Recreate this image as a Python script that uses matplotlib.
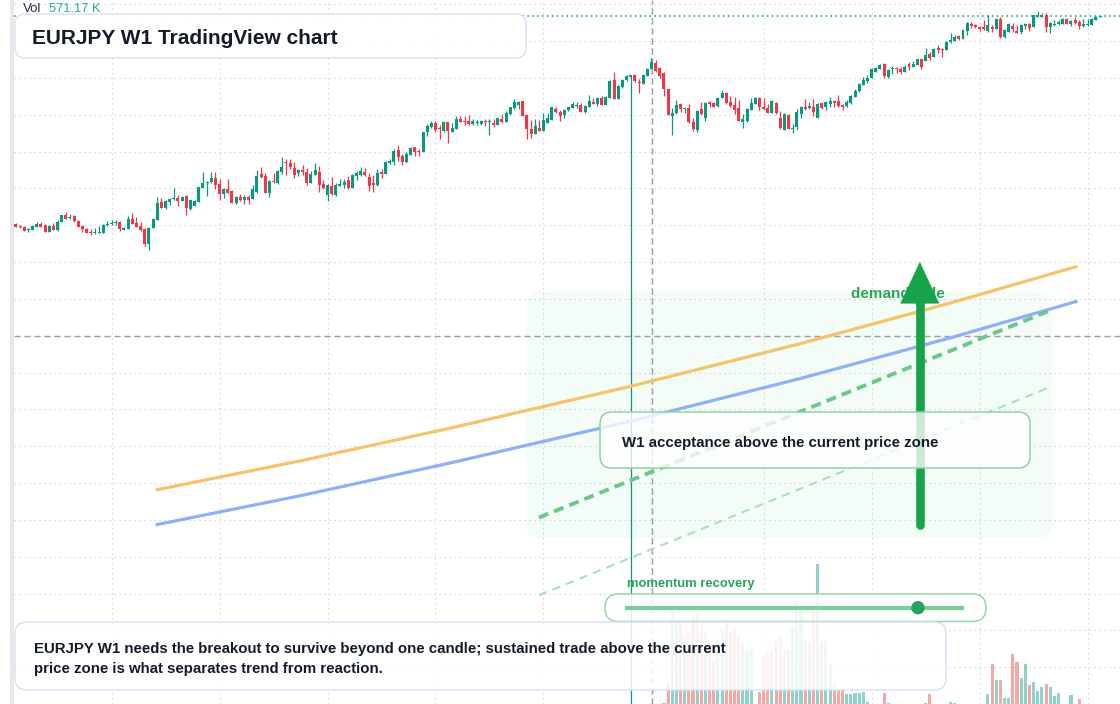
import numpy as np
import matplotlib
matplotlib.use("Agg")
import matplotlib.pyplot as plt
from matplotlib.patches import FancyBboxPatch, Circle, Rectangle
from matplotlib.lines import Line2D
from matplotlib.transforms import Affine2D
from matplotlib.colors import to_rgba

plt.rcParams['font.family'] = ['Liberation Sans', 'DejaVu Sans']

# ---------------- data (weekly EURJPY candles) ----------------
opens = [
    157.5, 157.3, 157.2, 156.9, 156.9, 157.2, 157.5, 157.4, 156.7, 157.3,
    156.9, 157.7, 158.4, 158.1, 158.3, 157.8, 157.3, 157.0, 156.7, 156.6,
    156.6, 156.6, 157.4, 157.5, 157.6, 157.7, 156.9, 157.0, 158.0, 157.6,
    157.3, 157.0, 155.5, 157.1, 157.9, 159.7, 159.1, 159.7, 160.0, 160.1,
    159.8, 160.3, 159.0, 159.3, 159.7, 161.1, 161.6, 161.7, 162.1, 161.5,
    160.5, 161.0, 160.8, 159.6, 160.2, 159.9, 160.2, 160.0, 160.7, 162.5,
    162.3, 160.6, 161.8, 161.6, 162.7, 163.7, 163.6, 163.1, 162.6, 162.9,
    162.7, 161.6, 162.4, 162.7, 161.5, 160.4, 161.3, 160.4, 161.3, 161.4,
    161.9, 161.1, 162.3, 162.4, 162.7, 162.2, 161.6, 161.4, 162.7, 162.5,
    163.6, 163.7, 164.9, 164.3, 163.7, 164.4, 165.2, 164.8, 164.7, 166.7,
    167.2, 167.6, 167.1, 166.8, 167.7, 166.7, 167.0, 168.0, 167.8, 167.8,
    167.5, 167.6, 167.5, 167.8, 167.7, 167.6, 167.4, 168.0, 167.7, 168.5,
    169.1, 169.5, 169.9, 168.4, 167.0, 166.5, 167.1, 166.8, 167.6, 167.9,
    169.0, 168.7, 168.4, 168.9, 169.1, 169.4, 169.5, 168.7, 169.3, 169.8,
    169.6, 170.2, 169.5, 170.2, 172.0, 170.1, 171.3, 172.0, 172.3, 172.5,
    171.8, 171.6, 172.4, 173.1, 173.7, 173.2, 172.7, 171.1, 168.3, 168.6,
    169.6, 169.0, 169.1, 167.7, 166.9, 169.0, 168.1, 169.8, 169.7, 169.4,
    170.2, 170.7, 169.8, 169.5, 169.1, 167.7, 167.8, 168.9, 169.6, 170.2,
    169.2, 169.1, 168.6, 169.7, 168.1, 166.9, 168.4, 167.0, 167.2, 168.5,
    169.2, 169.1, 169.2, 168.1, 169.7, 169.2, 169.6, 169.9, 169.9, 169.5,
    169.4, 169.7, 170.3, 170.9, 171.5, 171.9, 172.2, 172.8, 173.1, 173.6,
    172.3, 173.1, 173.2, 173.1, 172.8, 173.6, 173.3, 173.5, 174.1, 173.9,
    174.6, 174.3, 175.2, 175.1, 175.0, 175.8, 175.9, 176.4, 176.1, 176.9,
    177.6, 177.5, 177.3, 177.3, 176.9, 177.3, 177.1, 178.1, 176.3, 176.8,
    177.4, 176.9, 176.8, 177.4, 177.6, 177.3, 178.3, 178.3, 178.5, 177.3,
    177.5, 177.6, 177.6, 178.1, 177.6, 178.0, 177.8, 177.4, 177.5, 177.5,
    178.0, 178.3]
highs = [
    157.6, 157.4, 157.3, 157.1, 157.4, 157.7, 157.7, 157.5, 157.4, 157.6,
    157.9, 158.4, 158.7, 158.5, 158.4, 157.9, 157.4, 157.1, 157.0, 157.1,
    157.3, 157.5, 157.8, 157.9, 157.9, 157.8, 157.2, 158.3, 158.6, 158.2,
    157.7, 157.1, 157.2, 158.1, 160.2, 160.1, 159.9, 160.1, 161.1, 160.4,
    160.3, 160.4, 159.9, 159.9, 161.2, 162.7, 161.8, 162.7, 162.7, 162.0,
    161.1, 162.0, 160.9, 160.3, 160.5, 160.4, 160.4, 161.4, 162.9, 163.2,
    162.6, 161.9, 162.6, 162.9, 164.2, 164.0, 164.0, 163.7, 163.0, 163.4,
    163.1, 162.8, 163.6, 163.3, 161.9, 161.5, 162.2, 161.6, 162.0, 162.0,
    162.3, 162.5, 162.8, 163.2, 163.1, 162.6, 162.4, 163.0, 163.0, 163.8,
    164.0, 165.0, 165.4, 164.5, 164.7, 165.2, 165.2, 165.0, 166.7, 167.5,
    167.8, 167.8, 167.4, 167.8, 167.7, 167.6, 168.3, 168.3, 168.3, 168.4,
    168.0, 167.9, 167.9, 168.0, 168.0, 168.0, 168.1, 168.5, 168.8, 169.3,
    170.1, 169.9, 169.9, 168.5, 167.9, 168.0, 167.9, 168.6, 168.6, 169.3,
    169.2, 168.9, 169.0, 169.3, 169.8, 169.8, 169.7, 169.5, 170.5, 170.2,
    170.3, 170.4, 170.4, 172.0, 172.8, 171.5, 172.1, 172.5, 172.5, 172.6,
    172.1, 172.6, 173.2, 174.2, 174.0, 173.3, 172.8, 171.1, 169.1, 170.0,
    169.7, 169.3, 169.6, 168.1, 168.9, 169.8, 169.8, 169.9, 169.8, 170.3,
    171.0, 170.8, 170.4, 170.3, 170.0, 168.5, 169.1, 170.2, 170.3, 170.3,
    170.2, 169.6, 170.0, 169.8, 168.8, 168.6, 168.5, 167.5, 169.0, 169.4,
    170.1, 169.8, 170.1, 169.7, 169.7, 169.9, 170.3, 170.0, 170.5, 169.6,
    170.0, 170.5, 171.1, 171.7, 172.3, 172.5, 173.2, 173.3, 173.6, 173.7,
    173.1, 173.4, 173.3, 173.3, 173.5, 173.8, 173.9, 174.1, 174.1, 175.2,
    174.8, 175.2, 175.5, 175.2, 175.9, 176.7, 176.5, 176.5, 177.1, 177.8,
    177.8, 177.6, 177.4, 178.0, 178.5, 177.5, 178.2, 178.3, 177.1, 177.7,
    177.7, 177.5, 177.6, 177.7, 177.7, 178.5, 178.9, 178.7, 178.7, 177.8,
    178.0, 178.0, 178.2, 178.2, 178.0, 178.3, 178.0, 178.1, 178.1, 178.2,
    178.4, 178.4]
lows = [
    157.2, 157.1, 156.8, 156.7, 156.9, 157.2, 157.2, 156.7, 156.7, 156.9,
    156.8, 157.7, 158.0, 158.0, 157.7, 157.2, 156.7, 156.6, 156.4, 156.5,
    156.6, 156.6, 157.3, 157.4, 157.4, 156.8, 156.9, 157.0, 157.5, 157.2,
    156.8, 155.3, 154.9, 157.1, 157.9, 159.1, 159.0, 159.4, 159.9, 159.3,
    159.8, 158.4, 158.9, 159.3, 159.7, 161.1, 160.3, 161.6, 161.0, 159.9,
    160.1, 160.6, 159.6, 159.5, 159.8, 159.5, 159.5, 160.0, 160.6, 162.1,
    160.6, 160.2, 161.6, 161.5, 162.5, 162.4, 163.0, 162.1, 162.3, 162.4,
    161.4, 161.6, 162.4, 160.7, 161.0, 159.8, 160.4, 160.3, 161.3, 161.1,
    161.0, 161.1, 161.9, 162.3, 162.3, 160.8, 160.7, 161.3, 162.1, 162.5,
    163.5, 163.4, 163.8, 163.4, 163.6, 164.4, 164.3, 164.3, 164.7, 166.3,
    167.1, 166.7, 166.0, 166.7, 165.6, 166.7, 167.0, 167.7, 167.4, 167.4,
    167.4, 167.4, 167.4, 167.3, 166.4, 167.2, 167.4, 167.6, 167.7, 168.4,
    169.0, 169.0, 168.3, 166.0, 166.1, 166.5, 166.8, 166.8, 167.6, 167.9,
    168.6, 167.8, 168.1, 168.8, 169.1, 169.1, 168.7, 168.6, 169.3, 169.6,
    169.4, 169.5, 169.5, 170.2, 170.1, 170.1, 171.2, 171.9, 95.0, 171.8,
    170.7, 171.6, 172.4, 173.1, 172.8, 172.2, 170.4, 168.4, 166.4, 168.5,
    168.7, 168.6, 167.6, 166.8, 166.7, 168.4, 167.8, 169.2, 169.2, 169.3,
    170.2, 169.6, 169.3, 168.5, 167.8, 167.1, 167.7, 168.9, 169.6, 168.9,
    168.9, 168.6, 168.6, 168.5, 167.0, 166.9, 167.0, 166.6, 166.9, 168.1,
    168.9, 169.0, 168.3, 168.1, 169.0, 168.9, 169.2, 169.2, 169.2, 168.9,
    169.3, 169.6, 170.3, 170.8, 171.5, 171.7, 172.2, 172.8, 173.1, 172.2,
    172.2, 172.6, 172.7, 172.6, 172.8, 173.0, 173.3, 173.5, 173.1, 173.9,
    174.0, 174.3, 174.7, 174.3, 175.0, 175.7, 175.9, 176.0, 176.1, 176.5,
    177.2, 177.2, 176.9, 177.0, 176.8, 176.8, 177.1, 176.2, 176.2, 176.8,
    176.8, 176.7, 176.6, 177.1, 176.9, 177.3, 178.3, 178.3, 176.8, 176.7,
    177.4, 177.5, 177.6, 177.6, 177.4, 177.6, 177.1, 177.3, 177.4, 177.5,
    178.0, 178.3]
closes = [
    157.2, 157.2, 156.8, 157.0, 157.3, 157.5, 157.2, 156.7, 157.3, 156.9,
    157.7, 158.4, 158.0, 158.2, 157.8, 157.2, 157.0, 156.6, 156.6, 156.7,
    156.7, 157.4, 157.5, 157.6, 157.7, 157.0, 157.1, 158.0, 157.5, 157.2,
    156.9, 155.5, 157.1, 158.0, 159.6, 159.1, 159.8, 160.0, 160.1, 159.8,
    160.2, 159.1, 159.9, 159.8, 161.2, 161.6, 161.7, 162.1, 161.4, 160.5,
    161.0, 160.6, 159.6, 160.2, 159.9, 160.2, 159.9, 161.0, 162.3, 162.2,
    160.6, 161.8, 161.7, 162.8, 163.2, 163.6, 163.2, 162.4, 162.9, 162.7,
    161.6, 162.5, 162.9, 161.4, 161.1, 161.4, 160.5, 161.4, 161.5, 161.7,
    161.1, 162.4, 162.6, 162.8, 162.4, 161.3, 161.4, 162.6, 162.5, 163.7,
    163.8, 164.8, 164.2, 163.7, 164.5, 165.1, 164.7, 164.7, 166.7, 167.3,
    167.6, 166.9, 167.0, 167.7, 166.8, 167.1, 168.0, 167.7, 167.7, 167.5,
    167.8, 167.7, 167.8, 167.7, 167.8, 167.4, 168.1, 167.7, 168.6, 169.2,
    169.8, 169.8, 168.3, 167.0, 166.5, 167.3, 166.8, 167.9, 168.1, 169.2,
    168.7, 168.3, 168.9, 169.2, 169.6, 169.5, 168.7, 169.4, 169.9, 169.6,
    170.2, 169.5, 170.3, 171.9, 170.1, 171.4, 172.0, 172.4, 172.5, 171.9,
    171.7, 172.5, 173.1, 173.8, 172.9, 172.4, 171.1, 168.4, 168.6, 169.5,
    169.0, 169.1, 167.7, 167.0, 168.8, 168.5, 169.7, 169.6, 169.3, 170.2,
    170.7, 169.7, 169.4, 168.9, 167.8, 168.0, 169.0, 169.7, 170.2, 169.2,
    169.0, 168.6, 169.9, 168.6, 167.1, 168.5, 167.0, 167.1, 168.7, 169.2,
    169.0, 169.4, 168.7, 169.6, 169.1, 169.8, 169.9, 169.7, 169.4, 169.2,
    169.8, 170.4, 170.9, 171.6, 172.0, 172.2, 173.1, 173.2, 173.5, 172.4,
    173.0, 173.2, 173.1, 172.8, 173.3, 173.3, 173.6, 174.1, 173.3, 174.5,
    174.2, 175.1, 175.0, 175.0, 175.8, 176.0, 176.3, 176.1, 177.0, 177.7,
    177.4, 177.3, 177.1, 177.1, 177.5, 177.1, 178.1, 176.3, 177.0, 177.6,
    177.1, 176.7, 177.5, 177.6, 177.2, 178.5, 178.5, 178.5, 177.3, 177.7,
    177.6, 177.8, 178.1, 177.6, 177.9, 177.7, 177.4, 177.6, 177.6, 178.1,
    178.3, 178.4]
# volume in thousands (only the later weeks carry volume)
volume_k = [0] * 156 + [
    7, 110, 480, 405, 400, 335, 360, 435, 455, 395,
    355, 320, 210, 325, 375, 425, 360, 380, 345, 305,
    265, 270, 0, 60, 240, 250, 255, 315, 330, 270,
    275, 390, 515, 490, 325, 310, 485, 700, 305, 315,
    205, 105, 70, 70, 50, 50, 55, 55, 60, 10,
    0, 0, 0, 55, 5, 0, 0, 0, 0, 0,
    0, 0, 0, 7, 50, 0, 0, 0, 0, 12,
    7, 0, 0, 0, 0, 0, 0, 0, 50, 200,
    120, 120, 32, 32, 250, 210, 130, 200, 95, 112,
    67, 85, 100, 85, 40, 55, 0, 0, 45, 0,
    25, 0, 0, 0, 0, 0]

# annotation geometry in data units (week index, price)
curve_weeks = [34.0, 68.5, 104.7, 148.1, 189.1, 225.3, 255.2]
orange_curve = [130.8, 133.7, 137.0, 141.2, 145.5, 149.6, 153.2]
blue_curve = [127.3, 130.2, 133.5, 137.7, 142.0, 146.1, 149.7]
trend_weeks = [125.9, 248.9]
trend_main = [128.0, 148.8]
trend_low = [120.2, 141.1]
arrow_week, arrow_tail, arrow_base, arrow_tip = 217.6, 127.3, 149.5, 153.7
crosshair_week, crosshair_price = 153.2, 146.2
grid_weeks = [23, 49, 75, 101, 127, 153, 180, 206, 232, 258]

# ---------------- figure ----------------
W, H, DPI = 1120, 704, 100
fig = plt.figure(figsize=(W / DPI, H / DPI), dpi=DPI)
fig.patch.set_facecolor('white')
# pixel (from top-left) transform for layout elements
px = Affine2D().scale(1 / DPI, -1 / DPI).translate(0, H / DPI) + fig.dpi_scale_trans

ax = fig.add_axes([14 / W, 0, (W - 14) / W, 1])
ax.set_autoscale_on(False)
ax.set_xlim(-0.48, 265.8)
ax.set_ylim(109.6, 180.0)

grid_prices = [179.57 - 3.7 * k for k in range(20)]
ax.set_xticks(grid_weeks)
ax.set_yticks(grid_prices)
ax.tick_params(length=0, labelbottom=False, labelleft=False)
ax.grid(True, color='#cdd0d6', lw=0.75, linestyle=(0, (1.3, 3.5)))
for s in ax.spines.values():
    s.set_visible(False)

o = np.array(opens); h = np.array(highs); l = np.array(lows); c = np.array(closes)
x = np.arange(len(o))
up = c >= o
GREEN, RED = '#089981', '#f23645'
cols = np.where(up, GREEN, RED)

# zone
ax.add_patch(FancyBboxPatch((526, 292), 526, 246, boxstyle='round,pad=0,rounding_size=14',
                            transform=px, facecolor=to_rgba('#22c55e', 0.05),
                            edgecolor='none', zorder=1))

# candles
ax.vlines(x, l, h, colors=cols, lw=0.9, zorder=3)
body_bot = np.minimum(o, c)
body_h = np.maximum(np.abs(c - o), 0.1)
ax.bar(x, body_h, bottom=body_bot, width=0.72, color=cols, lw=0, zorder=3.1)

# crosshair + last price
ax.axvline(crosshair_week, color='#9a9ea5', lw=1.0, dashes=(4.3, 2.9), zorder=2)
ax.axhline(crosshair_price, color='#9a9ea5', lw=1.0, dashes=(4.3, 2.9), zorder=2)
ax.axhline(c[-1], color=GREEN, lw=1.1, linestyle=(0, (1, 2.2)), zorder=2)

# curves and trend lines
ax.plot(curve_weeks, orange_curve, color='#f5c46a', lw=2.3, zorder=4)
ax.plot(curve_weeks, blue_curve, color='#8fb0f5', lw=2.3, zorder=4)
ax.plot(trend_weeks, trend_main, color='#6cc78a', lw=2.8, dashes=(2.6, 1.6), zorder=4)
ax.plot(trend_weeks, trend_low, color='#a9dfb9', lw=1.5, dashes=(4, 3), zorder=4)

# demand side label (behind arrow)
ax.text(851, 298.3, 'demand side', transform=px, fontsize=11, fontweight='bold',
        color='#27a65b', va='baseline', ha='left', zorder=5)

# arrow
ARROW = '#16a34a'
head_w = 9.4
ax.plot([arrow_week, arrow_week], [arrow_tail, arrow_base + 0.3], color=ARROW, lw=6.2,
        solid_capstyle='round', zorder=6)
ax.fill([arrow_week - head_w / 2, arrow_week + head_w / 2, arrow_week],
        [arrow_base, arrow_base, arrow_tip], color=ARROW, lw=0, zorder=6)

# volume pane
ax2 = ax.twinx()
ax2.set_ylim(0, 3520)
ax2.set_xlim(ax.get_xlim())
vcols = np.where(up, '#26a69a80', '#ef535080')
ax2.bar(x, volume_k, width=0.75, color=vcols, lw=0)
ax2.set_yticks([])
ax2.tick_params(length=0, labelright=False)
for s in ax2.spines.values():
    s.set_visible(False)

# ---------------- layout overlays ----------------
def rbox(x0, y0, x1, y1, r, fc, ec, lw=1.0, z=2):
    p = FancyBboxPatch((x0, y0), x1 - x0, y1 - y0,
                       boxstyle=f'round,pad=0,rounding_size={r}', transform=px,
                       facecolor=fc, edgecolor=ec, lw=lw, zorder=z)
    fig.add_artist(p)

fig.add_artist(Rectangle((10, 0), 3.7, H, transform=px, facecolor='#e8e8e8',
                         edgecolor='none', zorder=1))

rbox(15, 14, 526, 58, 10, to_rgba('white', 0.97), '#d5e3f6', 1.0)
rbox(600, 412, 1030, 468, 12, to_rgba('white', 0.78), '#8fd4a4', 1.1)
rbox(605, 594, 986, 621.5, 13.7, to_rgba('white', 0.85), '#97d8aa', 1.1)
rbox(15, 622, 946, 690, 12, to_rgba('white', 0.86), '#d3e1f6', 1.0)

fig.add_artist(Line2D([627, 962], [607.7, 607.7], transform=px, color='#7ccf95',
                      lw=3, zorder=3))
fig.add_artist(Circle((918, 607.7), 6.7, transform=px, facecolor='#22a55a',
                      edgecolor='none', zorder=3.2))

DARK = '#131a2a'
fig.text(23, 12.5, 'Vol', transform=px, fontsize=9.5, color='#2a2e39', va='baseline')
fig.text(49, 12.5, '571.17 K', transform=px, fontsize=9.3, color='#22ab94', va='baseline')
fig.text(32, 43.5, 'EURJPY W1 TradingView chart', transform=px, fontsize=15,
         fontweight='bold', color=DARK, va='baseline')
fig.text(622, 447.2, 'W1 acceptance above the current price zone', transform=px,
         fontsize=10.8, fontweight='bold', color=DARK, va='baseline')
fig.text(627, 587.3, 'momentum recovery', transform=px, fontsize=9.4,
         fontweight='bold', color='#27a65b', va='baseline')
fig.text(34, 653.5, 'EURJPY W1 needs the breakout to survive beyond one candle; '
         'sustained trade above the current', transform=px, fontsize=10.8,
         fontweight='bold', color=DARK, va='baseline')
fig.text(34, 673.3, 'price zone is what separates trend from reaction.', transform=px,
         fontsize=10.8, fontweight='bold', color=DARK, va='baseline')

fig.savefig('out.png', dpi=DPI, facecolor='white')
